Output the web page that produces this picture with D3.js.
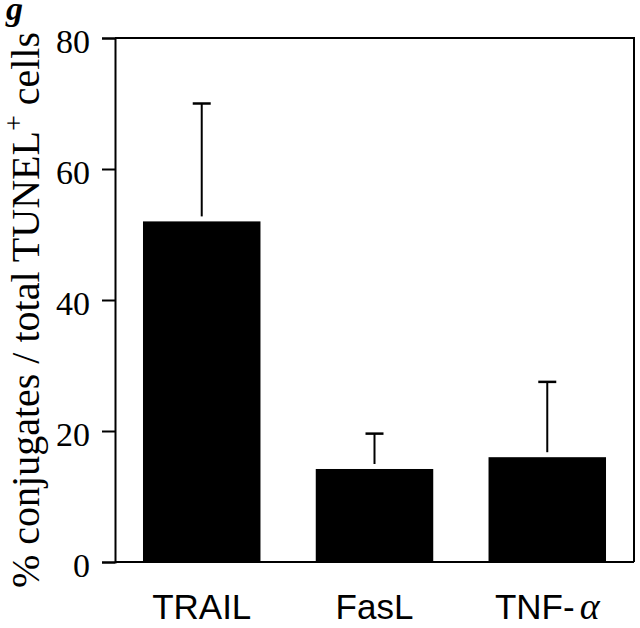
<!DOCTYPE html>
<html>
<head>
<meta charset="utf-8">
<script src="https://cdn.jsdelivr.net/npm/d3@7"></script>
<style>
  body { margin: 0; background: #fff; }
  svg { display: block; }
</style>
</head>
<body>
<svg id="chart" width="640" height="628"></svg>
<script>
// data
var categories = ["TRAIL", "FasL", "TNF-"];
var means = [52, 14.2, 16];
var upperErr = [70, 19.6, 27.5];
var yTicks = [0, 20, 40, 60, 80];

var svg = d3.select("#chart");

var margin = {left: 115, right: 6, top: 38, bottom: 66};
var width = 640 - margin.left - margin.right,
    height = 628 - margin.top - margin.bottom;

var x = d3.scaleBand()
    .domain(categories)
    .range([margin.left, margin.left + width])
    .paddingInner(0.32)
    .paddingOuter(0.162);

var y = d3.scaleLinear()
    .domain([0, 80])
    .range([margin.top + height, margin.top]);

// frame (top + right side)
svg.append("path")
    .attr("d", "M" + margin.left + "," + y(80) + "H" + (margin.left + width) + "V" + y(0))
    .attr("fill", "none")
    .attr("stroke", "#000")
    .attr("stroke-width", 2);

// bars
svg.selectAll("rect.bar")
    .data(categories)
    .enter().append("rect")
    .attr("class", "bar")
    .attr("x", function(d) { return x(d); })
    .attr("width", x.bandwidth())
    .attr("y", function(d, i) { return y(means[i]); })
    .attr("height", function(d, i) { return y(0) - y(means[i]); })
    .attr("fill", "#000");

// error bars, upper only
var err = svg.selectAll("g.err")
    .data(categories)
    .enter().append("g")
    .attr("class", "err")
    .attr("stroke", "#000")
    .attr("stroke-width", 2);

err.append("line")
    .attr("x1", function(d) { return x(d) + x.bandwidth() / 2; })
    .attr("x2", function(d) { return x(d) + x.bandwidth() / 2; })
    .attr("y1", function(d, i) { return y(upperErr[i]); })
    .attr("y2", function(d, i) { return y(means[i]) - 5; });

err.append("line")
    .attr("stroke-width", 2.5)
    .attr("x1", function(d) { return x(d) + x.bandwidth() / 2 - 9; })
    .attr("x2", function(d) { return x(d) + x.bandwidth() / 2 + 9; })
    .attr("y1", function(d, i) { return y(upperErr[i]); })
    .attr("y2", function(d, i) { return y(upperErr[i]); });

// y axis
var yAxis = svg.append("g")
    .attr("transform", "translate(" + margin.left + ",0)")
    .call(d3.axisLeft(y).tickValues(yTicks).tickSize(13).tickPadding(12));

yAxis.select(".domain").attr("stroke-width", 2);
yAxis.selectAll(".tick line").attr("stroke-width", 2);
yAxis.selectAll(".tick text")
    .attr("font-family", "'Liberation Serif', 'Times New Roman', serif")
    .attr("font-size", 34)
    .attr("dy", "0.42em")
    .attr("fill", "#000");

// bottom baseline
svg.append("line")
    .attr("x1", margin.left)
    .attr("x2", margin.left + width)
    .attr("y1", y(0))
    .attr("y2", y(0))
    .attr("stroke", "#000")
    .attr("stroke-width", 2);

// x labels
var xl = svg.selectAll("text.xlab")
    .data(categories)
    .enter().append("text")
    .attr("class", "xlab")
    .attr("x", function(d) { return x(d) + x.bandwidth() / 2; })
    .attr("y", 619)
    .attr("text-anchor", "middle")
    .attr("font-family", "'Liberation Sans', Arial, sans-serif")
    .attr("font-size", 35)
    .attr("fill", "#000")
    .text(function(d) { return d; });

// TNF gets an italic alpha
xl.filter(function(d) { return d === "TNF-"; })
    .append("tspan")
    .attr("dx", 5)
    .attr("font-family", "'Liberation Serif', 'Times New Roman', serif")
    .attr("font-style", "italic")
    .attr("font-size", 38)
    .text("α");

// y label
var ylab = svg.append("text")
    .attr("transform", "translate(39,310) rotate(-90)")
    .attr("text-anchor", "middle")
    .attr("font-family", "'Liberation Serif', 'Times New Roman', serif")
    .attr("font-size", 40)
    .attr("fill", "#000");

ylab.append("tspan").text("% conjugates / total TUNEL");
ylab.append("tspan")
    .attr("font-size", 28)
    .attr("dy", -16)
    .text("+");
ylab.append("tspan")
    .attr("dy", 16)
    .text(" cells");

// panel letter
svg.append("text")
    .attr("x", 6)
    .attr("y", 20)
    .attr("font-family", "'Liberation Serif', 'Times New Roman', serif")
    .attr("font-weight", "bold")
    .attr("font-style", "italic")
    .attr("font-size", 34)
    .attr("fill", "#000")
    .text("g");
</script>
</body>
</html>
